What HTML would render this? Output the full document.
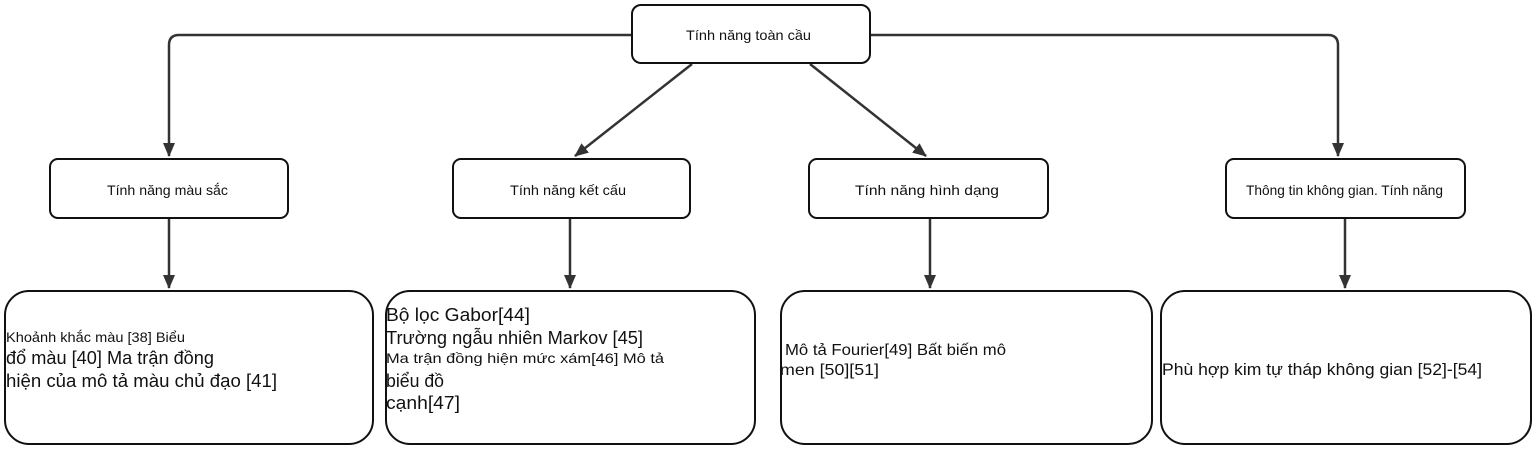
<!DOCTYPE html>
<html><head><meta charset="utf-8"><style>
body{margin:0;background:#fff;width:1535px;height:450px;overflow:hidden}
svg text{font-family:"Liberation Sans","DejaVu Sans",sans-serif;fill:#111}
</style></head><body>
<svg width="1535" height="450" xmlns="http://www.w3.org/2000/svg">
<defs><marker id="b" markerWidth="14" markerHeight="14" refX="13" refY="6" orient="auto" markerUnits="userSpaceOnUse"><path d="M0,0 L14,6 L0,12 z" fill="#333"/></marker></defs>
<g stroke="#333" stroke-width="2.5" fill="none">
<path d="M631,35 H179 Q169,35 169,45 V156" marker-end="url(#b)"/>
<path d="M870,35 H1328 Q1338,35 1338,45 V156" marker-end="url(#b)"/>
<path d="M692,64 L575,156" marker-end="url(#b)"/>
<path d="M810,64 L926,156" marker-end="url(#b)"/>
<path d="M169,219 V288" marker-end="url(#b)"/>
<path d="M570,219 V288" marker-end="url(#b)"/>
<path d="M930,219 V288" marker-end="url(#b)"/>
<path d="M1345,219 V288" marker-end="url(#b)"/>
</g>
<g stroke="#111" stroke-width="2" fill="#fff">
<rect x="632" y="5" width="238" height="58" rx="9"/>
<rect x="50" y="159" width="238" height="59" rx="8"/>
<rect x="453" y="159" width="237" height="59" rx="8"/>
<rect x="809" y="159" width="239" height="59" rx="8"/>
<rect x="1226" y="159" width="239" height="59" rx="8"/>
<rect x="5" y="291" width="368" height="153" rx="24"/>
<rect x="386" y="291" width="369" height="153" rx="24"/>
<rect x="781" y="291" width="371" height="153" rx="24"/>
<rect x="1161" y="291" width="370" height="153" rx="24"/>
</g>
<g font-size="14">
<text x="686" y="40" textLength="125" lengthAdjust="spacingAndGlyphs">Tính năng toàn cầu</text>
<text x="107" y="195" textLength="121" lengthAdjust="spacingAndGlyphs">Tính năng màu sắc</text>
<text x="510" y="195" textLength="116" lengthAdjust="spacingAndGlyphs">Tính năng kết cấu</text>
<text x="855" y="195" textLength="144" lengthAdjust="spacingAndGlyphs">Tính năng hình dạng</text>
<text x="1246" y="195" textLength="197" lengthAdjust="spacingAndGlyphs">Thông tin không gian. Tính năng</text>
</g>
<text x="6" y="342" font-size="14" textLength="179" lengthAdjust="spacingAndGlyphs">Khoảnh khắc màu [38] Biểu</text>
<text x="6" y="364" font-size="18" textLength="208" lengthAdjust="spacingAndGlyphs">đổ màu [40] Ma trận đồng</text>
<text x="6" y="387" font-size="18" textLength="271" lengthAdjust="spacingAndGlyphs">hiện của mô tả màu chủ đạo [41]</text>
<text x="386" y="321" font-size="18" textLength="144" lengthAdjust="spacingAndGlyphs">Bộ lọc Gabor[44]</text>
<text x="386" y="344" font-size="18" textLength="257" lengthAdjust="spacingAndGlyphs">Trường ngẫu nhiên Markov [45]</text>
<text x="386" y="363" font-size="14" textLength="278" lengthAdjust="spacingAndGlyphs">Ma trận đồng hiện mức xám[46] Mô tả</text>
<text x="386" y="387" font-size="18" textLength="58" lengthAdjust="spacingAndGlyphs">biểu đồ</text>
<text x="386" y="409" font-size="18" textLength="74" lengthAdjust="spacingAndGlyphs">cạnh[47]</text>
<text x="785" y="355" font-size="16" textLength="221" lengthAdjust="spacingAndGlyphs">Mô tả Fourier[49] Bất biến mô</text>
<text x="780" y="375" font-size="16" textLength="99" lengthAdjust="spacingAndGlyphs">men [50][51]</text>
<text x="1162" y="375" font-size="16.5" textLength="320" lengthAdjust="spacingAndGlyphs">Phù hợp kim tự tháp không gian [52]-[54]</text>
</svg>
</body></html>
